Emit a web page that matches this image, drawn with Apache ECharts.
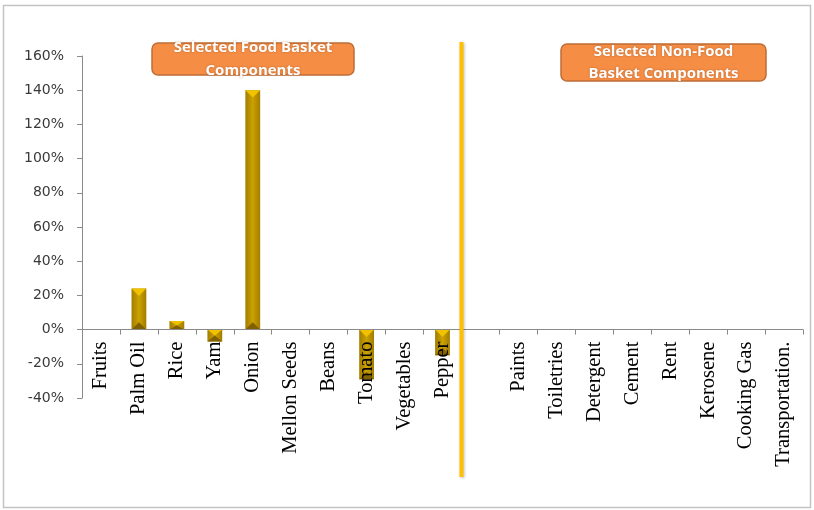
<!DOCTYPE html>
<html>
<head>
<meta charset="utf-8">
<script src="https://cdn.jsdelivr.net/npm/echarts@6/dist/echarts.min.js"></script>
<style>
html,body{margin:0;padding:0;background:#fff;}
#chart{width:814px;height:510px;}
</style>
</head>
<body>
<div id="chart"></div>
<script>
// Categories (blank slot separates food and non-food groups)
const categories = ["Fruits","Palm Oil","Rice","Yam","Onion","Mellon Seeds","Beans","Tomato","Vegetables","Pepper","","Paints","Toiletries","Detergent","Cement","Rent","Kerosene","Cooking Gas","Transportation."];
// Percentage change values (%)
const values = [0, 24, 5, -7, 140, 0, 0, -29, 0, -15, 0, 0, 0, 0, 0, 0, 0, 0, 0];
// Y-axis ticks
const yMin = -40, yMax = 160, yStep = 20;
// Annotation labels
const foodLabel = "Selected Food Basket\nComponents";
const nonFoodLabel = "Selected Non-Food\nBasket Components";

const chart = echarts.init(document.getElementById('chart'));

function renderBar(params, api) {
  const idx = api.value(0);
  const v = api.value(1);
  if (!v) return null;
  const p0 = api.coord([idx, 0]);
  const p1 = api.coord([idx, v]);
  const w = api.size([1, 0])[0] * 0.39;
  const left = p0[0] - w / 2;
  const top = Math.min(p0[1], p1[1]);
  const bottom = Math.max(p0[1], p1[1]);
  const h = Math.min(w * 0.5, (bottom - top) / 2);
  return {
    type: 'group',
    children: [
      {type: 'rect', shape: {x: left, y: top, width: w, height: bottom - top},
       style: {fill: new echarts.graphic.LinearGradient(0, 0, 1, 0, [
         {offset: 0, color: '#A27C00'},
         {offset: 0.5, color: '#CCA200'},
         {offset: 1, color: '#A27C00'}])}},
      {type: 'polygon', shape: {points: [[left, top], [left + w, top], [left + w / 2, top + h]]},
       style: {fill: '#F0C200'}},
      {type: 'polygon', shape: {points: [[left, bottom], [left + w, bottom], [left + w / 2, bottom - h]]},
       style: {fill: '#806000'}}
    ]
  };
}

const option = {
  backgroundColor: '#fff',
  animation: false,
  grid: {left: 82, right: 11, top: 56, bottom: 112, containLabel: false, outerBoundsMode: 'none'},
  xAxis: {
    type: 'category',
    data: categories,
    offset: 0,
    axisLine: {onZero: false, lineStyle: {color: '#8a8a8a', width: 1}},
    axisTick: {show: true, alignWithLabel: false, length: 5, lineStyle: {color: '#8a8a8a'}},
    axisLabel: {
      rotate: 90, interval: 0, margin: 12,
      fontFamily: '"Liberation Serif", serif', fontSize: 20.5, color: '#000'
    },
    splitLine: {show: false},
    z: 3
  },
  yAxis: {
    type: 'value',
    min: yMin, max: yMax, interval: yStep,
    axisLine: {show: true, lineStyle: {color: '#8a8a8a', width: 1}},
    axisTick: {show: true, length: 5, lineStyle: {color: '#8a8a8a'}},
    axisLabel: {
      formatter: '{value}%', margin: 18,
      fontFamily: '"DejaVu Sans", sans-serif', fontSize: 14, color: '#3a3a3a'
    },
    splitLine: {show: false}
  },
  series: [{
    type: 'custom',
    renderItem: renderBar,
    data: values.map((v, i) => [i, v]),
    encode: {x: 0, y: 1},
    z: 1
  }],
  graphic: []
};
chart.setOption(option);

// move the category axis up to the zero line (computed from the value scale)
const yZero = chart.convertToPixel({yAxisIndex: 0}, 0);
const yBottom = chart.convertToPixel({yAxisIndex: 0}, yMin);
chart.setOption({xAxis: {offset: -(yBottom - yZero)}});

// separator line between the two groups, positioned from the category scale
const xa = chart.convertToPixel({xAxisIndex: 0}, 'Pepper');
const xb = chart.convertToPixel({xAxisIndex: 0}, categories[10]);
const sepX = (xa + xb) / 2;

function labelBox(x, y, w, h, text, lineH) {
  return {
    type: 'group',
    children: [
      {type: 'rect', shape: {x: x, y: y, width: w, height: h, r: 6},
       style: {fill: '#F58D45', stroke: '#BF6E36', lineWidth: 1.5}},
      {type: 'text', x: x + w / 2, y: y + h / 2,
       style: {text: text, fill: '#fff', font: 'bold 15px "Open Sans", sans-serif',
               align: 'center', verticalAlign: 'middle', lineHeight: lineH,
               textShadowBlur: 2, textShadowColor: 'rgba(120,60,20,0.5)'}}
    ]
  };
}

chart.setOption({
  graphic: [
    {type: 'rect', shape: {x: 3.5, y: 5.5, width: 807, height: 502},
     style: {fill: 'none', stroke: '#c4c4c4', lineWidth: 1.5}, silent: true},
    {type: 'line', shape: {x1: sepX, y1: 42, x2: sepX, y2: 477}, z: 10,
     style: {stroke: '#FFC000', lineWidth: 4, shadowBlur: 3, shadowColor: 'rgba(0,0,0,0.25)', shadowOffsetX: 1, shadowOffsetY: 1}},
    labelBox(152, 43, 202, 32, foodLabel, 23),
    labelBox(561, 44, 205, 37, nonFoodLabel, 22)
  ]
});
</script>
</body>
</html>
